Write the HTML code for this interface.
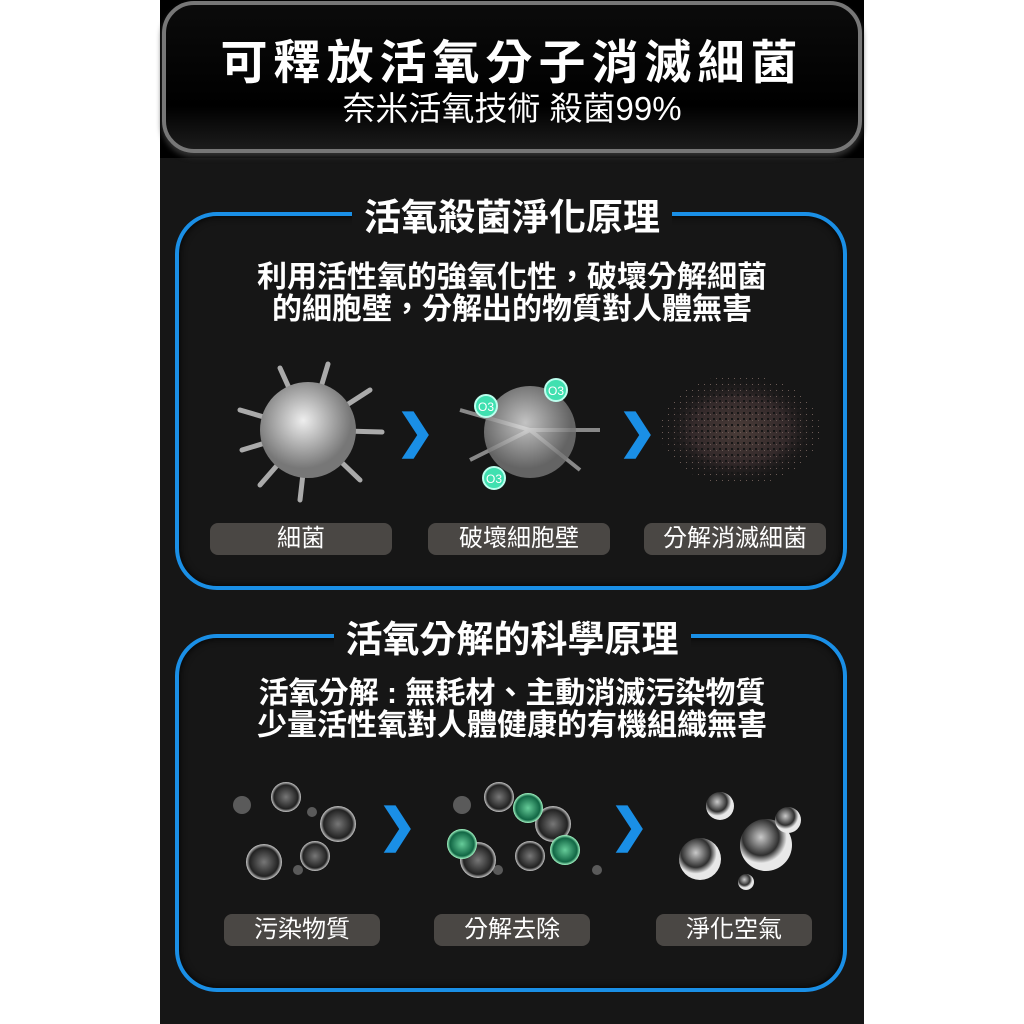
<!DOCTYPE html>
<html><head><meta charset="utf-8"><style>
body{margin:0;width:1024px;height:1024px;background:#fff;position:relative;overflow:hidden;font-family:"Liberation Sans","Noto Sans CJK TC",sans-serif}
.main{position:absolute;left:160px;top:0;width:704px;height:1024px;background:#161616}
.top{position:absolute;left:0;top:0;width:704px;height:158px;background:#000}
.hdr{position:absolute;left:2px;top:1px;width:700px;height:152px;border-radius:32px;border:4px solid #777;background:linear-gradient(#0b0b0b,#000 70%,#1c1c1c);box-sizing:border-box;box-shadow:0 4px 6px #333}
.t1{position:absolute;left:0;width:704px;top:36px;text-align:center;color:#fff;font-size:47px;font-weight:bold;letter-spacing:6px;line-height:54px}
.t2{position:absolute;left:0;width:704px;top:90px;text-align:center;color:#fff;font-size:33px;line-height:38px}
.panel{position:absolute;left:15px;width:672px;border:4px solid #1a8fe6;border-radius:42px;box-sizing:border-box;box-shadow:0 0 8px #000 inset}
.ptitle{position:absolute;left:0;width:704px;text-align:center;font-size:37px;font-weight:bold;color:#fff;line-height:40px}
.ptitle span{background:#161616;padding:0 12px}
.txt{position:absolute;left:0;width:704px;text-align:center;color:#fff;font-size:30px;font-weight:bold;line-height:32px}
.pill{position:absolute;height:32px;background:#4a4744;border-radius:8px;color:#fff;font-size:24px;text-align:center;line-height:32px}
.arr{position:absolute;color:#1a8fe6;font-size:46px;font-weight:bold;line-height:46px}
</style></head><body>
<div class="main">
<div class="top"><div class="hdr"></div></div>
<div class="t1">可釋放活氧分子消滅細菌</div>
<div class="t2">奈米活氧技術 殺菌99%</div>

<div class="panel" style="top:212px;height:378px"></div>
<div class="ptitle" style="top:198px"><span>活氧殺菌淨化原理</span></div>
<div class="txt" style="top:262px">利用活性氧的強氧化性，破壞分解細菌<br>的細胞壁，分解出的物質對人體無害</div>
<svg style="position:absolute;left:0;top:350px" width="704" height="160">
<defs><radialGradient id="v" cx="45%" cy="40%"><stop offset="0" stop-color="#eee"/><stop offset="1" stop-color="#777"/></radialGradient>
<radialGradient id="b" cx="50%" cy="50%"><stop offset="0" stop-color="#777"/><stop offset="0.8" stop-color="#222"/><stop offset="1" stop-color="#ccc"/></radialGradient>
<radialGradient id="g" cx="50%" cy="50%"><stop offset="0" stop-color="#6c9"/><stop offset="0.8" stop-color="#164"/><stop offset="1" stop-color="#afc"/></radialGradient>
<radialGradient id="c" cx="40%" cy="35%"><stop offset="0" stop-color="#ddd"/><stop offset="0.7" stop-color="#333"/><stop offset="1" stop-color="#fff"/></radialGradient>
<radialGradient id="d"><stop offset="0" stop-color="#4a3c38"/><stop offset="0.6" stop-color="#33292a"/><stop offset="1" stop-color="#161616" stop-opacity="0"/></radialGradient>
<pattern id="sp" width="6" height="6" patternUnits="userSpaceOnUse"><rect width="6" height="6" fill="none"/><rect x="1" y="2" width="2" height="2" fill="#161616"/><rect x="4" y="4" width="1" height="1" fill="#6a5a55"/></pattern></defs>
<g stroke="#aaa" stroke-width="5" stroke-linecap="round">
<line x1="148" y1="80" x2="80" y2="60"/><line x1="148" y1="80" x2="82" y2="100"/><line x1="148" y1="80" x2="120" y2="18"/><line x1="148" y1="80" x2="168" y2="14"/><line x1="148" y1="80" x2="210" y2="40"/><line x1="148" y1="80" x2="222" y2="82"/><line x1="148" y1="80" x2="200" y2="130"/><line x1="148" y1="80" x2="140" y2="150"/><line x1="148" y1="80" x2="100" y2="135"/></g>
<circle cx="148" cy="80" r="48" fill="url(#v)"/>
<g stroke="#888" stroke-width="4"><line x1="370" y1="80" x2="300" y2="60"/><line x1="370" y1="80" x2="310" y2="110"/><line x1="370" y1="80" x2="420" y2="120"/><line x1="370" y1="80" x2="440" y2="80"/></g>
<circle cx="370" cy="82" r="46" fill="url(#v)" opacity="0.8"/>
<g fill="#40e0b0" stroke="#bfe" stroke-width="2"><circle cx="326" cy="56" r="11"/><circle cx="396" cy="40" r="11"/><circle cx="334" cy="128" r="11"/></g>
<g fill="#fff" font-size="12" text-anchor="middle"><text x="326" y="61">O3</text><text x="396" y="45">O3</text><text x="334" y="133">O3</text></g>
<ellipse cx="580" cy="80" rx="80" ry="55" fill="url(#d)"/>
<ellipse cx="580" cy="80" rx="80" ry="55" fill="url(#sp)"/>
</svg>
<div class="arr" style="left:236px;top:408px">❯</div>
<div class="arr" style="left:458px;top:408px">❯</div>
<div class="pill" style="left:50px;top:523px;width:182px">細菌</div>
<div class="pill" style="left:268px;top:523px;width:182px">破壞細胞壁</div>
<div class="pill" style="left:484px;top:523px;width:182px">分解消滅細菌</div>

<div class="panel" style="top:634px;height:358px"></div>
<div class="ptitle" style="top:620px"><span>活氧分解的科學原理</span></div>
<div class="txt" style="top:678px">活氧分解 : 無耗材、主動消滅污染物質<br>少量活性氧對人體健康的有機組織無害</div>
<svg style="position:absolute;left:0;top:770px" width="704" height="130">
<g fill="#888" opacity="0.6"><circle cx="82" cy="35" r="9"/><circle cx="152" cy="42" r="5"/><circle cx="138" cy="100" r="5"/><circle cx="302" cy="35" r="9"/><circle cx="338" cy="100" r="5"/><circle cx="437" cy="100" r="5"/></g>
<g fill="url(#b)"><circle cx="126" cy="27" r="15"/><circle cx="178" cy="54" r="18"/><circle cx="104" cy="92" r="18"/><circle cx="155" cy="86" r="15"/><circle cx="339" cy="27" r="15"/><circle cx="393" cy="54" r="18"/><circle cx="318" cy="90" r="18"/><circle cx="370" cy="86" r="15"/></g>
<g fill="url(#g)"><circle cx="368" cy="38" r="15"/><circle cx="302" cy="74" r="15"/><circle cx="405" cy="80" r="15"/></g>
<g fill="url(#c)" opacity="0.9"><circle cx="560" cy="36" r="14"/><circle cx="540" cy="89" r="21"/><circle cx="606" cy="75" r="26"/><circle cx="586" cy="112" r="8"/><circle cx="628" cy="50" r="13"/></g>
</svg>
<div class="arr" style="left:218px;top:802px">❯</div>
<div class="arr" style="left:450px;top:802px">❯</div>
<div class="pill" style="left:64px;top:914px;width:156px">污染物質</div>
<div class="pill" style="left:274px;top:914px;width:156px">分解去除</div>
<div class="pill" style="left:496px;top:914px;width:156px">淨化空氣</div>
</div>
</body></html>
